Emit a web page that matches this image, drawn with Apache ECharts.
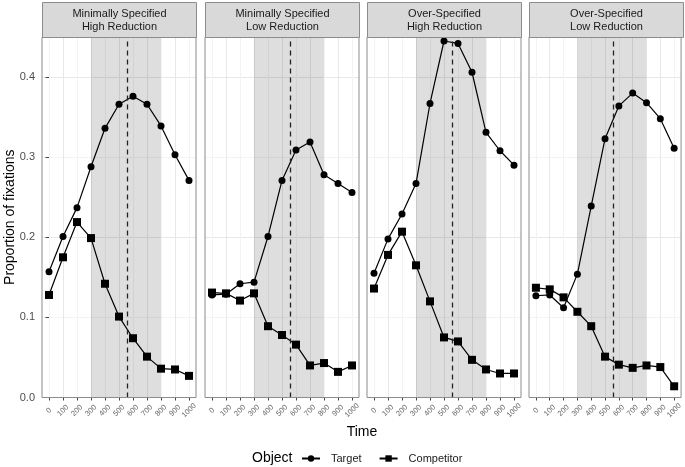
<!DOCTYPE html>
<html>
<head>
<meta charset="utf-8">
<script src="https://cdn.jsdelivr.net/npm/echarts@6/dist/echarts.min.js"></script>
<style>html,body{margin:0;padding:0;background:#fff;}#c{width:685px;height:467px;}</style>
</head>
<body>
<div id="c"></div>
<script>
// ---- data ----
const times = [0, 100, 200, 300, 400, 500, 600, 700, 800, 900, 1000];
const panelTitles = [
  'Minimally Specified\nHigh Reduction',
  'Minimally Specified\nLow Reduction',
  'Over-Specified\nHigh Reduction',
  'Over-Specified\nLow Reduction'
];
const targetMinHigh = [0.157, 0.201, 0.237, 0.288, 0.336, 0.366, 0.376, 0.366, 0.339, 0.303, 0.271];
const competitorMinHigh = [0.128, 0.175, 0.219, 0.199, 0.142, 0.101, 0.074, 0.051, 0.036, 0.035, 0.027];
const targetMinLow = [0.128, 0.129, 0.142, 0.144, 0.201, 0.271, 0.309, 0.319, 0.278, 0.267, 0.256];
const competitorMinLow = [0.131, 0.130, 0.121, 0.130, 0.089, 0.078, 0.066, 0.040, 0.043, 0.032, 0.040];
const targetOverHigh = [0.155, 0.198, 0.229, 0.267, 0.367, 0.445, 0.442, 0.406, 0.331, 0.308, 0.290];
const competitorOverHigh = [0.136, 0.178, 0.207, 0.165, 0.120, 0.075, 0.070, 0.047, 0.035, 0.030, 0.030];
const targetOverLow = [0.127, 0.128, 0.112, 0.154, 0.239, 0.323, 0.364, 0.380, 0.368, 0.348, 0.311];
const competitorOverLow = [0.137, 0.135, 0.125, 0.107, 0.089, 0.051, 0.041, 0.037, 0.040, 0.038, 0.014];
const xTickValues = [0, 100, 200, 300, 400, 500, 600, 700, 800, 900, 1000];
const yTickValues = [0, 0.1, 0.2, 0.3, 0.4];
const yTickLabels = ['0.0', '0.1', '0.2', '0.3', '0.4'];
const shadeWindow = [300, 800];
const dashedTime = 556;
const seriesNames = ['Target', 'Competitor'];
const legendTitle = 'Object';
const xTitle = 'Time';
const yTitle = 'Proportion of fixations';

const targets = [targetMinHigh, targetMinLow, targetOverHigh, targetOverLow];
const competitors = [competitorMinHigh, competitorMinLow, competitorOverHigh, competitorOverLow];

// ---- layout ----
const FONT = '"Liberation Sans", Arial, Helvetica, sans-serif';
const panelLefts = [42, 205, 367, 529];
const panelW = 154;
const plotTop = 37, plotH = 360.5;
const stripTop = 2, stripH = 35;
const borderCol = '#8c8c8c';

const grids = [], xAxes = [], yAxes = [], series = [], graphics = [];
panelLefts.forEach((left, p) => {
  grids.push({left: left, top: plotTop, width: panelW, height: plotH, show: true,
    backgroundColor: 'rgba(0,0,0,0)', borderColor: borderCol, borderWidth: 1, z: 10, containLabel: false});
  xAxes.push({
    type: 'value', gridIndex: p, min: -50, max: 1050, interval: 50, z: 1,
    axisLine: {show: false},
    axisTick: {show: true, customValues: xTickValues, length: 3, lineStyle: {color: '#444', width: 1}},
    axisLabel: {customValues: xTickValues, rotate: 45, fontSize: 7.5, color: '#666', fontFamily: FONT,
      margin: 13, align: 'center', verticalAlign: 'middle', formatter: v => String(v)},
    splitLine: {show: true, lineStyle: {color: ['#f3f3f3', '#e8e8e8'], width: 1}}
  });
  yAxes.push({
    type: 'value', gridIndex: p, min: 0, max: 0.45, interval: 0.05, z: 1,
    axisLine: {show: false},
    axisTick: {show: p === 0, customValues: yTickValues, length: 3.5, lineStyle: {color: '#444', width: 1}},
    axisLabel: {show: p === 0, customValues: yTickValues, fontSize: 11, color: '#4d4d4d', fontFamily: FONT, margin: 7,
      formatter: v => yTickLabels[yTickValues.findIndex(t => Math.abs(t - v) < 1e-6)] || ''},
    splitLine: {show: true, lineStyle: {color: ['#e8e8e8', '#f3f3f3'], width: 1}}
  });
  // shaded window (semi-transparent, grid lines show through)
  series.push({
    type: 'custom', xAxisIndex: p, yAxisIndex: p, z: 1, silent: true, animation: false,
    data: [[shadeWindow[0], shadeWindow[1]]],
    renderItem: (params, api) => {
      const a = api.coord([api.value(0), 0.45]);
      const b = api.coord([api.value(1), 0]);
      return {type: 'rect', shape: {x: a[0], y: a[1], width: b[0] - a[0], height: b[1] - a[1]},
        style: {fill: 'rgba(0,0,0,0.13)'}};
    }
  });
  series.push({
    name: seriesNames[0], type: 'line', xAxisIndex: p, yAxisIndex: p, z: 3,
    data: times.map((t, i) => [t, targets[p][i]]),
    symbol: 'circle', symbolSize: 7, clip: false,
    itemStyle: {color: '#000'}, lineStyle: {color: '#000', width: 1.2},
    emphasis: {disabled: true}, animation: false,
    markLine: {silent: true, symbol: 'none', label: {show: false},
      lineStyle: {color: '#222', type: [5, 4], width: 1.3},
      data: [{xAxis: dashedTime}]}
  });
  series.push({
    name: seriesNames[1], type: 'line', xAxisIndex: p, yAxisIndex: p, z: 3,
    data: times.map((t, i) => [t, competitors[p][i]]),
    symbol: 'rect', symbolSize: 8, clip: false,
    itemStyle: {color: '#000'}, lineStyle: {color: '#000', width: 1.2},
    emphasis: {disabled: true}, animation: false
  });
  graphics.push({type: 'rect', z: 20, shape: {x: left + 0.5, y: stripTop + 0.5, width: panelW, height: stripH},
    style: {fill: '#d9d9d9', stroke: borderCol, lineWidth: 1}});
  graphics.push({type: 'text', z: 21, x: left + panelW / 2 + 0.5, y: stripTop + stripH / 2 + 0.5,
    style: {text: panelTitles[p], fontSize: 11, fontFamily: FONT, fill: '#1a1a1a',
      textAlign: 'center', textVerticalAlign: 'middle', lineHeight: 13}});
});

graphics.push({type: 'text', x: 10, y: plotTop + plotH / 2, rotation: Math.PI / 2,
  style: {text: yTitle, fontSize: 14, fontFamily: FONT, fill: '#000', textAlign: 'center', textVerticalAlign: 'middle'}});
graphics.push({type: 'text', x: 362, y: 432,
  style: {text: xTitle, fontSize: 14, fontFamily: FONT, fill: '#000', textAlign: 'center', textVerticalAlign: 'middle'}});
graphics.push({type: 'text', x: 252, y: 458,
  style: {text: legendTitle, fontSize: 14, fontFamily: FONT, fill: '#000', textAlign: 'left', textVerticalAlign: 'middle'}});

const chart = echarts.init(document.getElementById('c'), null, {renderer: 'canvas'});
chart.setOption({
  backgroundColor: '#fff',
  animation: false,
  textStyle: {fontFamily: FONT},
  grid: grids, xAxis: xAxes, yAxis: yAxes, series: series,
  legend: {data: seriesNames, left: 296, top: 448, itemWidth: 18, itemHeight: 8, itemGap: 17,
    selectedMode: false, textStyle: {fontSize: 11, color: '#1a1a1a', fontFamily: FONT, padding: [0, 0, 0, 6]}},
  graphic: graphics
});
</script>
</body>
</html>
